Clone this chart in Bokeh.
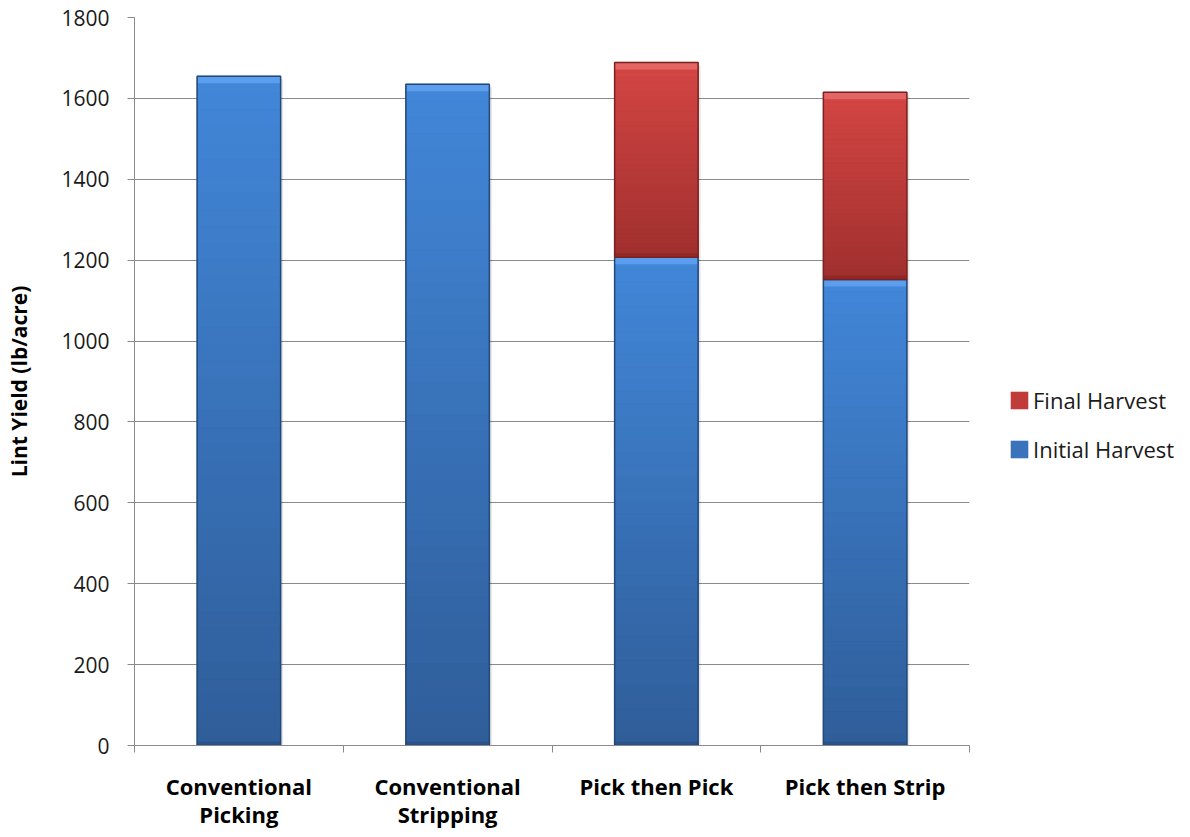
from bokeh.plotting import figure
from bokeh.models import Range1d, FixedTicker, Legend, LegendItem, ColumnDataSource
from bokeh.embed import file_html
from bokeh.resources import INLINE

# ---- data ----
categories = ["Conventional\nPicking", "Conventional\nStripping", "Pick then Pick", "Pick then Strip"]
initial_harvest = [1655, 1635, 1207, 1152]
final_harvest = [0, 0, 482, 463]
y_ticks = [0, 200, 400, 600, 800, 1000, 1200, 1400, 1600, 1800]

xs = [i + 1 for i in range(len(categories))]
BAR_W = 0.4

p = figure(frame_width=835, frame_height=728, output_backend="svg", toolbar_location=None,
           x_range=Range1d(0.5, len(categories) + 0.5), y_range=Range1d(0, 1800),
           min_border_left=134, min_border_right=200, min_border_top=17, min_border_bottom=80)
p.outline_line_color = None
p.background_fill_color = "white"
p.border_fill_color = "white"

GRID = "#8a8a8a"
p.xgrid.visible = False
p.ygrid.grid_line_color = GRID
p.ygrid.grid_line_width = 1

# ---- axes ----
p.yaxis.ticker = FixedTicker(ticks=y_ticks)
p.yaxis.axis_line_color = GRID
p.yaxis.major_tick_line_color = GRID
p.yaxis.major_tick_out = 7
p.yaxis.major_tick_in = 0
p.yaxis.minor_tick_line_color = None
p.yaxis.major_label_text_font = "Open Sans"
p.yaxis.major_label_text_font_size = "21px"
p.yaxis.major_label_text_color = "#1a1a1a"
p.yaxis.major_label_standoff = 18
p.yaxis.axis_label = "Lint Yield (lb/acre)"
p.yaxis.axis_label_text_font = "Open Sans"
p.yaxis.axis_label_text_font_size = "21px"
p.yaxis.axis_label_text_font_style = "bold"
p.yaxis.axis_label_text_color = "#000000"
p.yaxis.axis_label_standoff = 25

bounds = [x - 0.5 for x in xs] + [xs[-1] + 0.5]
p.xaxis.ticker = FixedTicker(ticks=xs, minor_ticks=bounds)
p.xaxis.major_label_overrides = {x: c for x, c in zip(xs, categories)}
p.xaxis.axis_line_color = GRID
p.xaxis.major_tick_out = 0
p.xaxis.major_tick_in = 0
p.xaxis.minor_tick_out = 7
p.xaxis.minor_tick_in = 0
p.xaxis.minor_tick_line_color = GRID
p.xaxis.major_label_text_font = "Open Sans"
p.xaxis.major_label_text_font_size = "22px"
p.xaxis.major_label_text_font_style = "bold"
p.xaxis.major_label_text_color = "#000000"
p.xaxis.major_label_text_line_height = 0.94
p.xaxis.major_label_standoff = 18


def hex_to_rgb(h):
    h = h.lstrip("#")
    return tuple(int(h[i:i + 2], 16) for i in (0, 2, 4))


def mix(c1, c2, t):
    a, b = hex_to_rgb(c1), hex_to_rgb(c2)
    return "#%02x%02x%02x" % tuple(int(round(a[i] + (b[i] - a[i]) * t)) for i in range(3))


UNIT_PER_PX = 1800 / 728.0


def draw_segment(xv, bottoms, tops, c_bot, c_top, c_bevel, c_edge, c_base):
    segs = [(x, b, t) for x, b, t in zip(xv, bottoms, tops) if t > b]
    sx = [s[0] for s in segs]
    sb = [s[1] for s in segs]
    st = [s[2] for s in segs]
    base = p.vbar(x=sx, bottom=sb, top=st, width=BAR_W, fill_color=c_base, line_color=None)
    # vertical gradient
    n = 40
    gx, gb, gt, gc = [], [], [], []
    for x, b, t in segs:
        for k in range(n):
            gx.append(x)
            gb.append(b + (t - b) * k / n)
            gt.append(b + (t - b) * (k + 1) / n)
            gc.append(mix(c_bot, c_top, (k + 0.5) / n))
    src = ColumnDataSource(dict(x=gx, b=gb, t=gt, c=gc))
    p.vbar(x="x", bottom="b", top="t", width=BAR_W, fill_color="c", line_color="c",
           line_width=0.6, source=src)
    # top bevel
    bev = 7 * UNIT_PER_PX
    p.vbar(x=sx, bottom=[t - bev for t in st], top=st, width=BAR_W * 0.99,
           fill_color=c_bevel, line_color=None)
    # bottom dark band
    dk = 4 * UNIT_PER_PX
    p.vbar(x=sx, bottom=sb, top=[b + dk for b in sb], width=BAR_W,
           fill_color=c_edge, fill_alpha=0.45, line_color=None)
    # edges
    p.vbar(x=sx, bottom=sb, top=st, width=BAR_W, fill_color=None,
           line_color=c_edge, line_width=1.5)
    return base


# faint shadow
totals = [a + b for a, b in zip(initial_harvest, final_harvest)]
p.vbar(x=[x + 0.012 for x in xs], bottom=[-6 * UNIT_PER_PX] * len(xs), top=[t - 3 * UNIT_PER_PX for t in totals],
       width=BAR_W, fill_color="#000000", fill_alpha=0.10, line_color=None)

r_init = draw_segment(xs, [0] * len(xs), initial_harvest,
                      "#2f5d99", "#4287d9", "#5c9eee", "#23487a", "#3a72bb")
r_final = draw_segment(xs, initial_harvest, totals,
                       "#9f302e", "#d44644", "#e46664", "#7a2220", "#c03c3a")

legend = Legend(items=[LegendItem(label="Final Harvest", renderers=[r_final]),
                       LegendItem(label="Initial Harvest", renderers=[r_init])],
                location=(39, 281), orientation="vertical")
legend.label_text_font = "Open Sans"
legend.label_text_font_size = "22px"
legend.label_text_color = "#1a1a1a"
legend.glyph_width = 22
legend.glyph_height = 22
legend.label_height = 24
legend.spacing = 19
legend.padding = 0
legend.margin = 0
legend.label_standoff = 3
legend.border_line_color = None
legend.background_fill_alpha = 0
p.add_layout(legend, "right")

open("out.html", "w").write(file_html(p, INLINE))
